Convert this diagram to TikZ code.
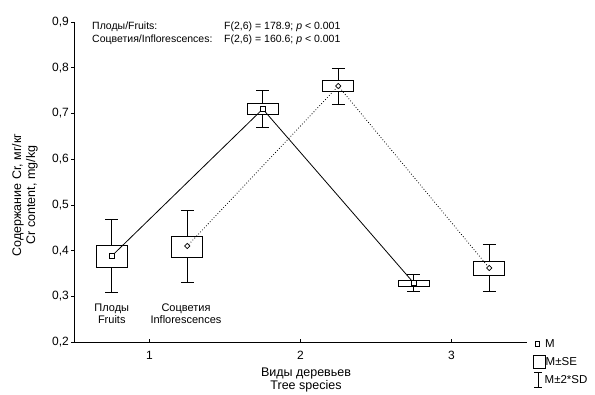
\documentclass[tikz,border=0pt]{standalone}
\usepackage{fontspec}
\setmainfont{Liberation Sans}
\usetikzlibrary{shapes.geometric}
\newcommand\bxpl[5]{%
  % #1 x, #2 box top, #3 box bottom, #4 whisker top, #5 whisker bottom
  \draw[whisk] (#1,#2) -- (#1,#4) (#1-6.5,#4) -- (#1+6.5,#4);
  \draw[whisk] (#1,#3) -- (#1,#5) (#1-6.5,#5) -- (#1+6.5,#5);
  \draw[boxst] (#1-15.5,#2) rectangle (#1+15.5,#3);
}
\begin{document}
\begin{tikzpicture}[x=1pt,y=-1pt,
  axis/.style={line width=0.8pt},
  boxst/.style={draw, line width=0.9pt},
  whisk/.style={line width=0.9pt},
  meanF/.style={draw, fill=white, rectangle, minimum size=4.5pt, inner sep=0pt, line width=0.7pt},
  meanI/.style={draw, fill=white, diamond, minimum size=5.5pt, inner sep=0pt, line width=0.7pt},
  lineF/.style={line width=0.8pt},
  lineI/.style={line width=0.8pt, dotted},
  ticklab/.style={font=\fontsize{12}{14}\selectfont, inner sep=0pt},
  txt/.style={font=\fontsize{10.5}{12}\selectfont, inner sep=0pt},
  lab/.style={font=\fontsize{11}{12}\selectfont, align=center, inner sep=0pt},
  leg/.style={font=\fontsize{11.5}{13}\selectfont, inner sep=0pt, anchor=west},
]
\useasboundingbox (0,0) rectangle (595,394);
% axes
\draw[axis] (74,22) -- (74,342) -- (527,342);
\foreach \v in {2,...,9} {
  \draw[axis] (74,{342-45.7*(\v-2)}) -- (71,{342-45.7*(\v-2)});
  \node[ticklab, anchor=east] (yl\v) at (69,{342-45.7*(\v-2)}) {0,\v};
}
\foreach \i in {1,2,3} {
  \draw[axis] ({74+151*(\i-0.5)},342) -- ({74+151*(\i-0.5)},339);
  \node[ticklab] (xl\i) at ({74+151*(\i-0.5)},355) {\i};
}
% axis titles
\node[font=\fontsize{12.5}{13}\selectfont, align=center, inner sep=0pt] (xt) at (306,380) {Виды деревьев\\Tree species};
\node[font=\fontsize{12.5}{14}\selectfont, align=center, inner sep=0pt, rotate=90] (yt) at (25,195) {Содержание Cr, мг/кг\\Cr content, mg/kg};
% header
\node[txt, anchor=west] (h1) at (92,27) {Плоды/Fruits:};
\node[txt, anchor=west] (h2) at (92,40) {Соцветия/Inflorescences:};
\node[txt, anchor=west] (f1t) at (224,27) {F(2,6) = 178.9; \textit{p} < 0.001};
\node[txt, anchor=west] (f2t) at (224,40) {F(2,6) = 160.6; \textit{p} < 0.001};
% boxes
\bxpl{111.75}{245}{267}{219}{292}
\bxpl{187.25}{236}{257}{210}{282}
\bxpl{262.75}{103}{114.5}{90}{127}
\bxpl{338.25}{80}{91}{68}{104}
\bxpl{413.75}{280}{286}{274}{291}
\bxpl{489.25}{261}{275}{244}{291}
% means
\node[meanF] (m1) at (111.75,256) {};
\node[meanF] (m2) at (262.75,109) {};
\node[meanF] (m3) at (413.75,283) {};
\node[meanI] (n1) at (187.25,246) {};
\node[meanI] (n2) at (338.25,86) {};
\node[meanI] (n3) at (489.25,268) {};
\draw[lineF] (m1) -- (m2) -- (m3);
\draw[lineI] (n1) -- (n2) -- (n3);
% group labels
\node[lab] (lf) at (111.75,314) {Плоды\\Fruits};
\node[lab] (li) at (186,314) {Соцветия\\Inflorescences};
% legend
\node[meanF] (lgm) at (537.5,344) {};
\node[leg] (lgmt) at (545,344) {M};
\draw[boxst] (533.5,355.5) rectangle (545,368.5);
\node[leg] (lgst) at (545.5,362) {M±SE};
\draw[whisk] (538,372) -- (538,387) (534,372) -- (542,372) (534,387) -- (542,387);
\node[leg] (lgsd) at (544.5,380) {M±2*SD};
\end{tikzpicture}
\end{document}
